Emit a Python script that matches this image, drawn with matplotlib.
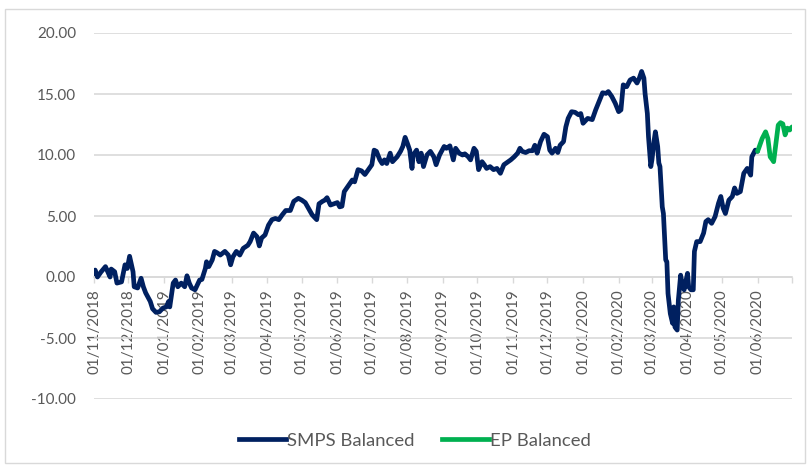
import matplotlib
matplotlib.use('Agg')
import matplotlib.pyplot as plt
import pandas as pd
from matplotlib.patches import Rectangle
from matplotlib.lines import Line2D

plt.rcParams['font.family'] = ['Lato', 'DejaVu Sans']

start_date = '2018-11-01'
end_date = '2020-07-01'

# day offsets from start_date and values
smps_days = [0, 1, 3, 6, 10, 14, 15, 18, 20, 24, 27, 29, 31, 34, 35, 38, 41, 43, 45, 49,
             51, 54, 57, 60, 63, 65, 66, 69, 71, 73, 76, 79, 81, 83, 85, 88, 92, 94, 97, 98,
             100, 103, 105, 107, 110, 114, 117, 119, 121, 124, 127, 130, 134, 136, 139, 142, 144, 146, 149, 152,
             155, 158, 161, 164, 167, 171, 174, 178, 181, 184, 187, 190, 194, 196, 199, 201, 203, 206, 209, 212,
             214, 216, 218, 222, 225, 227, 230, 233, 236, 239, 242, 244, 246, 249, 251, 253, 255, 258, 260, 264,
             267, 269, 271, 273, 275, 277, 278, 281, 283, 285, 287, 290, 293, 296, 298, 301, 305, 307, 310, 313,
             315, 318, 321, 323, 326, 328, 331, 333, 335, 338, 340, 342, 345, 348, 351, 354, 357, 360, 363, 366,
             369, 371, 373, 376, 379, 382, 384, 386, 389, 392, 395, 397, 399, 402, 404, 406, 409, 411, 413, 416,
             419, 422, 424, 426, 430, 434, 437, 440, 443, 446, 448, 451, 454, 457, 459, 461, 464, 467, 470, 473,
             475, 477, 479, 480, 482, 483, 485, 486, 488, 489, 491, 492, 493, 495, 496, 498, 499, 500, 502, 504,
             505, 506, 508, 509, 511, 512, 514, 517, 518, 520, 522, 523, 525, 528, 531, 533, 535, 538, 541, 544,
             546, 548, 550, 553, 556, 558, 560, 563, 566, 569, 572, 573, 576, 578]
smps_values = [0.3, 0.57, 0.0, 0.4, 0.85, 0.0, 0.65, 0.43, -0.5, -0.4, 1.0, 0.7, 1.7, 0.43, -0.8, -0.9, -0.1, -0.8, -1.3, -2.0,
               -2.6, -2.9, -2.85, -2.55, -2.45, -2.0, -2.45, -0.5, -0.25, -0.8, -0.5, -0.8, 0.1, -0.5, -0.9, -1.05, -0.25, -0.2, 0.7, 1.25,
               0.85, 1.4, 2.1, 2.0, 1.8, 2.1, 1.8, 1.0, 1.65, 2.1, 1.8, 2.35, 2.6, 2.9, 3.6, 3.3, 2.55, 3.2, 3.45, 4.25,
               4.7, 4.8, 4.7, 5.1, 5.45, 5.45, 6.2, 6.45, 6.3, 6.1, 5.6, 5.1, 4.7, 6.0, 6.2, 6.3, 6.5, 5.9, 6.0, 6.1,
               5.75, 5.8, 7.0, 7.55, 7.95, 7.8, 8.8, 8.7, 8.4, 8.8, 9.2, 10.4, 10.3, 9.6, 9.3, 9.6, 9.3, 10.15, 9.45, 9.85,
               10.3, 10.7, 11.45, 10.95, 10.4, 8.9, 10.0, 10.4, 9.45, 10.15, 9.05, 10.0, 10.3, 9.85, 9.2, 10.0, 10.7, 10.55, 10.75, 9.6,
               10.55, 10.15, 10.0, 10.1, 9.85, 9.6, 10.55, 10.3, 8.8, 9.45, 9.2, 8.9, 9.05, 8.8, 8.9, 8.5, 9.2, 9.4, 9.6, 9.85,
               10.15, 10.55, 10.3, 10.2, 10.35, 10.35, 10.8, 10.15, 11.1, 11.7, 11.5, 10.4, 10.15, 10.55, 10.2, 10.8, 11.1, 12.3, 13.0, 13.55,
               13.5, 13.3, 13.4, 12.6, 13.0, 12.9, 13.7, 14.4, 15.1, 15.05, 15.2, 14.8, 14.25, 13.55, 13.7, 15.75, 15.6, 16.15, 16.3, 15.9,
               16.3, 16.85, 16.3, 15.05, 13.4, 11.5, 9.05, 9.6, 11.25, 11.9, 10.7, 9.35, 9.05, 5.75, 5.2, 1.4, 1.25, -1.35, -3.0, -3.8,
               -2.45, -4.1, -4.35, -1.9, 0.15, -0.4, -1.05, 0.3, -0.8, -1.05, -1.05, 2.1, 2.9, 2.9, 3.6, 4.55, 4.7, 4.4, 4.95, 6.05,
               6.6, 5.65, 5.2, 6.3, 6.6, 7.3, 6.85, 7.0, 8.5, 8.9, 8.35, 9.85, 10.4, 10.3]

ep_days = [578, 579, 582, 585, 587, 589, 591, 592, 594, 596, 598, 600, 602, 604, 606, 608]
ep_values = [10.3, 10.55, 11.35, 11.9, 11.35, 9.85, 9.6, 9.45, 10.95, 12.45, 12.65, 12.55, 11.65, 12.2, 12.05, 12.3]

series_names = ['SMPS Balanced', 'EP Balanced']
series_colors = ['#002060', '#00B050']
y_ticks = [-10, -5, 0, 5, 10, 15, 20]

start = pd.Timestamp(start_date)
smps_dates = start + pd.to_timedelta(smps_days, unit='D')
ep_dates = start + pd.to_timedelta(ep_days, unit='D')
month_ticks = pd.date_range(start_date, end_date, freq='MS')
month_labels = [d.strftime('%d/%m/%Y') for d in month_ticks[:-1]] + ['']

fig = plt.figure(figsize=(8.1, 4.68), dpi=100)
W, H = 810, 468
ax = fig.add_axes([94 / W, 69 / H, 698 / W, 366 / H])

lw = 3.4
ax.plot(smps_dates, smps_values, color=series_colors[0], lw=lw, solid_joinstyle='round',
        solid_capstyle='round', zorder=3)
ax.plot(ep_dates, ep_values, color=series_colors[1], lw=lw, solid_joinstyle='round',
        solid_capstyle='round', zorder=4)

grid_c = '#d9d9d9'
text_c = '#595959'

ax.set_xlim(start, pd.Timestamp(end_date))
ax.set_ylim(-10, 20)
ax.set_yticks(y_ticks)
ax.set_yticklabels([f'{v:.2f}' for v in y_ticks])
ax.set_xticks(month_ticks)
ax.set_xticklabels(month_labels)
ax.tick_params(axis='y', length=0, pad=13, labelsize=11, labelcolor=text_c)
ax.tick_params(axis='x', direction='out', length=4.5, width=1, color=grid_c, pad=4.5,
               labelsize=11, labelcolor=text_c, labelrotation=90)
for lab in ax.get_xticklabels():
    lab.set_va('top')
    lab.set_ha('center')

ax.grid(axis='y', color=grid_c, lw=1.2, zorder=0)
ax.set_axisbelow(True)
for s in ['top', 'right', 'left']:
    ax.spines[s].set_visible(False)
ax.spines['bottom'].set_position(('data', 0))
ax.spines['bottom'].set_color(grid_c)
ax.spines['bottom'].set_linewidth(1.2)

handles = [Line2D([], [], color=c, lw=lw) for c in series_colors]
leg = fig.legend(handles, series_names, loc='center', bbox_to_anchor=(0.512, 0.058),
                 ncol=2, frameon=False, handlelength=2.55, handletextpad=0.05,
                 columnspacing=1.5, prop={'size': 13.3})
for t in leg.get_texts():
    t.set_color(text_c)

fig.patches.append(Rectangle((5 / W, 5 / H), 800 / W, 454 / H, transform=fig.transFigure,
                             fill=False, edgecolor=grid_c, lw=1))

fig.savefig('out.png', dpi=100)
